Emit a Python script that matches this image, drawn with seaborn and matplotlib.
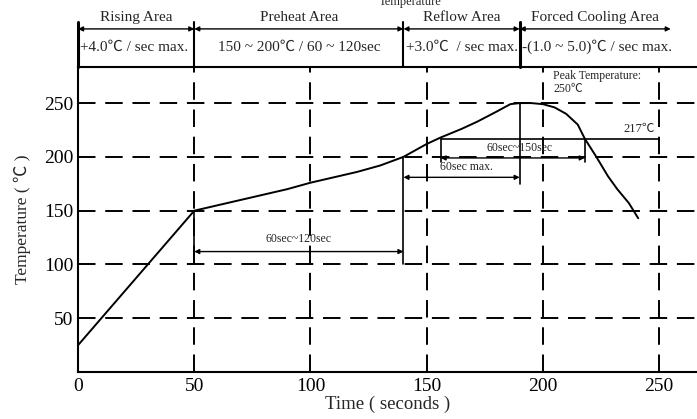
import matplotlib
matplotlib.use("Agg")
import matplotlib.pyplot as plt
import numpy as np
import pandas as pd
import seaborn as sns

# reflow profile
time_s = [0, 50, 60, 70, 80, 90, 100, 110, 120, 130, 140, 145, 150, 156, 165,
          172, 180, 186, 190, 195, 200, 205, 210, 215, 218, 223, 228, 232, 237, 241]
temp_c = [25, 150, 155, 160, 165, 170, 176, 181, 186, 192, 200, 206, 212, 218, 226,
          233, 242, 249, 250, 250, 249, 246, 240, 230, 217, 200, 182, 170, 157, 143]

x_ticks = [0, 50, 100, 150, 200, 250]
y_ticks = [50, 100, 150, 200, 250]

# header zones: (start, end, title, rate text)
zone_bounds = [0, 50, 140, 190, 255]
zone_titles = ["Rising Area", "Preheat Area", "Reflow Area", "Forced Cooling Area"]
zone_rates = ["+4.0℃ / sec max.", "150 ~ 200℃ / 60 ~ 120sec",
              "+3.0℃  / sec max.", "-(1.0 ~ 5.0)℃ / sec max."]

sns.set_style("white")
plt.rcParams["font.family"] = ["Liberation Serif", "Noto Sans CJK JP", "DejaVu Serif"]

fig = plt.figure(figsize=(6.97, 4.19), dpi=100)
ax = fig.add_axes([0.112, 0.112, 0.888, 0.728])

df = pd.DataFrame({"time": time_s, "temp": temp_c})
sns.lineplot(data=df, x="time", y="temp", ax=ax, color="black", lw=1.4)

ax.set_xlim(0, 266.3)
ax.set_ylim(0, 283.5)
ax.set_xticks(x_ticks)
ax.set_yticks(y_ticks)
ax.tick_params(direction="in", length=6, width=1.2, labelsize=14, colors="black")
ax.tick_params(axis="x", pad=4)
ax.set_xlabel("Time ( seconds )", fontsize=13.5, labelpad=1)
ax.set_ylabel("Temperature ( ℃ )", fontsize=12.5, labelpad=9)

ax.spines["right"].set_visible(False)
for s in ["left", "bottom", "top"]:
    ax.spines[s].set_color("black")
    ax.spines[s].set_linewidth(1.5)

dash = (0, (9, 5))
for xv in x_ticks[1:]:
    ax.axvline(xv, color="black", lw=1.4, ls=dash, zorder=1)
for yv in y_ticks:
    ax.axhline(yv, color="black", lw=1.4, ls=dash, zorder=1)

arrow = dict(arrowstyle="<|-|>", color="black", lw=1.0, mutation_scale=7,
             shrinkA=0, shrinkB=0)

# preheat time
ax.plot([50, 50], [100, 150], color="black", lw=1.2)
ax.plot([140, 140], [100, 200], color="black", lw=1.2)
ax.annotate("", xy=(50, 112), xytext=(140, 112), arrowprops=arrow)
ax.text(95, 118, "60sec~120sec", ha="center", va="bottom", fontsize=8.5)

# time to peak
ax.plot([190, 190], [175, 250], color="black", lw=1.2)
ax.annotate("", xy=(140, 181), xytext=(190, 181), arrowprops=arrow)
ax.text(167, 185, "60sec max.", ha="center", va="bottom", fontsize=8.5)

# time above 217
ax.plot([156, 250], [217, 217], color="black", lw=1.2)
ax.plot([156, 156], [195, 217], color="black", lw=1.2)
ax.plot([218, 218], [195, 217], color="black", lw=1.2)
ax.annotate("", xy=(156, 199), xytext=(218, 199), arrowprops=arrow)
ax.text(190, 203, "60sec~150sec", ha="center", va="bottom", fontsize=8.5)
ax.text(248, 220, "217℃", ha="right", va="bottom", fontsize=9)
ax.text(204.5, 281, "Peak Temperature:\n250℃", ha="left", va="top",
        fontsize=8.5, linespacing=1.1)

# header band above the plot
tr = ax.get_xaxis_transform()
sep_width = [2.2, 1.5, 1.5, 2.2]
for xv, w in zip(zone_bounds[:-1], sep_width):
    ax.plot([xv, xv], [1.0, 1.148], transform=tr, color="black", lw=w, clip_on=False)
for i, title in enumerate(zone_titles):
    x0, x1 = zone_bounds[i], zone_bounds[i + 1]
    ax.annotate("", xy=(x0, 1.125), xytext=(x1, 1.125), xycoords=tr, textcoords=tr,
                arrowprops=arrow, annotation_clip=False)
    ax.text((x0 + x1) / 2, 1.152, title, transform=tr, ha="center", va="baseline",
            fontsize=11)
for i, rate in enumerate(zone_rates):
    x0, x1 = zone_bounds[i], zone_bounds[i + 1]
    if i == 1:
        ax.text((x0 + x1) / 2, 1.066, rate, transform=tr, ha="center", va="center",
                fontsize=11)
    else:
        ax.text(x0 + 1, 1.066, rate, transform=tr, ha="left", va="center",
                fontsize=11)
# title cut by the top edge in the reference
fig.text(0.588, 0.996, "Temperature", ha="center", va="center", fontsize=9)

fig.savefig("out.png", dpi=100)
